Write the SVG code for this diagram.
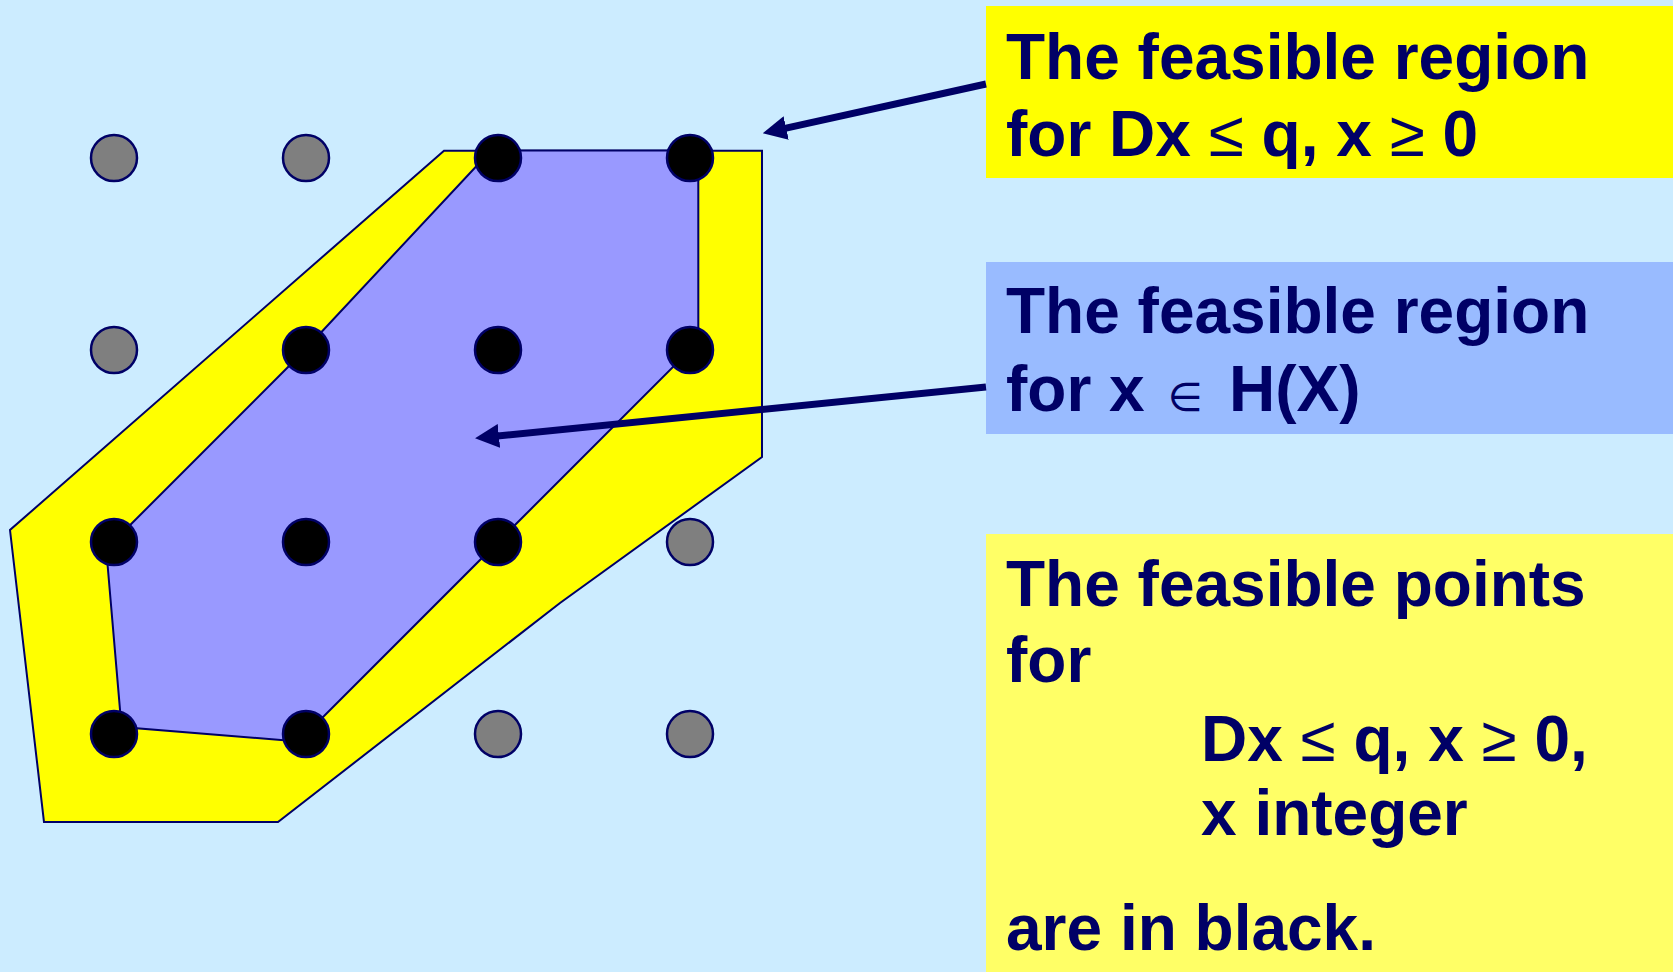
<svg xmlns="http://www.w3.org/2000/svg" width="1673" height="972" viewBox="0 0 1673 972">
<style>
.region{stroke:#000066;stroke-width:2;stroke-linejoin:miter}
.pt{stroke:#000066;stroke-width:2.5}
.black{fill:#000000}
.gray{fill:#7f7f7f}
.lbl{font-family:"Liberation Sans",Arial,sans-serif;font-weight:bold;font-size:64px;fill:#000066}
.sym{font-weight:normal}
.conn{stroke:#000066;stroke-width:7;fill:none}
</style>
<defs>
<marker id="arrow" markerUnits="userSpaceOnUse" markerWidth="24" markerHeight="24" viewBox="0 0 24 24" refX="14" refY="12" orient="auto">
<path d="M0,0 L24,12 L0,24 z" fill="#000066"/>
</marker>
</defs>
<rect x="0" y="0" width="1673" height="972" fill="#CCECFF"/>
<g id="region-lp">
<polygon class="region" fill="#FFFF00" points="444,150.7 762,150.7 762,457 560,603 278,822 44,822 10,530"/>
</g>
<g id="region-hull">
<polygon class="region" fill="#9999FF" points="491,150.5 698.3,150.5 698.3,341.7 298.6,741.4 121.5,727 106.2,549 300,355"/>
</g>
<g id="points">
<circle class="pt gray" cx="114" cy="158" r="23"/>
<circle class="pt gray" cx="306" cy="158" r="23"/>
<circle class="pt black" cx="498" cy="158" r="23"/>
<circle class="pt black" cx="690" cy="158" r="23"/>
<circle class="pt gray" cx="114" cy="350" r="23"/>
<circle class="pt black" cx="306" cy="350" r="23"/>
<circle class="pt black" cx="498" cy="350" r="23"/>
<circle class="pt black" cx="690" cy="350" r="23"/>
<circle class="pt black" cx="114" cy="542" r="23"/>
<circle class="pt black" cx="306" cy="542" r="23"/>
<circle class="pt black" cx="498" cy="542" r="23"/>
<circle class="pt gray" cx="690" cy="542" r="23"/>
<circle class="pt black" cx="114" cy="734" r="23"/>
<circle class="pt black" cx="306" cy="734" r="23"/>
<circle class="pt gray" cx="498" cy="734" r="23"/>
<circle class="pt gray" cx="690" cy="734" r="23"/>
</g>
<g id="label-lp">
<rect x="986" y="6" width="687" height="172" fill="#FFFF00"/>
<text class="lbl" x="1006" y="79">The feasible region</text>
<text class="lbl" x="1006" y="156">for Dx <tspan class="sym">≤</tspan> q, x <tspan class="sym">≥</tspan> 0</text>
</g>
<g id="label-hull">
<rect x="986" y="262" width="687" height="172" fill="#99BBFF"/>
<text class="lbl" x="1006" y="333">The feasible region</text>
<text class="lbl" x="1006" y="411">for x <tspan class="sym" x="1168" style="font-family:'DejaVu Sans',sans-serif;font-size:40px">∈</tspan><tspan x="1229">H(X)</tspan></text>
</g>
<g id="label-points">
<rect x="986" y="534" width="687" height="438" fill="#FFFF66"/>
<text class="lbl" x="1006" y="606">The feasible points</text>
<text class="lbl" x="1006" y="682">for</text>
<text class="lbl" x="1201" y="761">Dx <tspan class="sym">≤</tspan> q, x <tspan class="sym">≥</tspan> 0,</text>
<text class="lbl" x="1201" y="835">x integer</text>
<text class="lbl" x="1006" y="950">are in black.</text>
</g>
<g id="connectors">
<line class="conn" x1="986" y1="84" x2="772.5" y2="131.1" marker-end="url(#arrow)"/>
<line class="conn" x1="986" y1="387" x2="485" y2="437.3" marker-end="url(#arrow)"/>
</g>
</svg>
